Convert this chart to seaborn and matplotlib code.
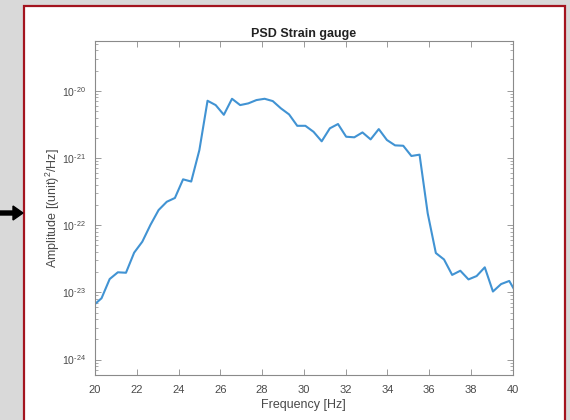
import matplotlib
matplotlib.use("Agg")
import numpy as np
import pandas as pd
import matplotlib.pyplot as plt
import seaborn as sns
from matplotlib.patches import Rectangle, FancyArrow
from matplotlib.ticker import LogLocator, NullFormatter, FixedLocator, FixedFormatter

# ---- data ----
freq_hz = [19.922, 20.313, 20.703, 21.094, 21.484, 21.875, 22.266, 22.656, 23.047, 23.438,
           23.828, 24.219, 24.609, 25.0, 25.391, 25.781, 26.172, 26.563, 26.953, 27.344,
           27.734, 28.125, 28.516, 28.906, 29.297, 29.688, 30.078, 30.469, 30.859, 31.25,
           31.641, 32.031, 32.422, 32.813, 33.203, 33.594, 33.984, 34.375, 34.766, 35.156,
           35.547, 35.938, 36.328, 36.719, 37.109, 37.5, 37.891, 38.281, 38.672, 39.063,
           39.453, 39.844, 40.234]
psd = [6.39e-24, 8.18e-24, 1.58e-23, 1.99e-23, 1.96e-23, 3.90e-23, 5.68e-23, 1.01e-22, 1.68e-22, 2.23e-22,
       2.54e-22, 4.81e-22, 4.46e-22, 1.31e-21, 7.10e-21, 6.12e-21, 4.39e-21, 7.60e-21, 6.12e-21, 6.49e-21,
       7.27e-21, 7.60e-21, 7.02e-21, 5.47e-21, 4.45e-21, 3.01e-21, 3.01e-21, 2.45e-21, 1.77e-21, 2.76e-21,
       3.20e-21, 2.07e-21, 2.03e-21, 2.40e-21, 1.89e-21, 2.69e-21, 1.85e-21, 1.54e-21, 1.52e-21, 1.07e-21,
       1.12e-21, 1.50e-22, 3.85e-23, 3.09e-23, 1.82e-23, 2.10e-23, 1.56e-23, 1.75e-23, 2.36e-23, 1.03e-23,
       1.33e-23, 1.48e-23, 9.16e-24]
x_ticks = [20, 22, 24, 26, 28, 30, 32, 34, 36, 38, 40]
y_ticks = [1e-24, 1e-23, 1e-22, 1e-21, 1e-20]
y_tick_labels = [r"$10^{\text{-}24}$", r"$10^{\text{-}23}$", r"$10^{\text{-}22}$",
                 r"$10^{\text{-}21}$", r"$10^{\text{-}20}$"]

df = pd.DataFrame({"Frequency": freq_hz, "PSD": psd})

sns.set_theme(style="white")
plt.rcParams["font.family"] = ["Liberation Sans", "DejaVu Sans"]
plt.rcParams["mathtext.fontset"] = "custom"
plt.rcParams["mathtext.rm"] = "Liberation Sans"
plt.rcParams["mathtext.default"] = "regular"
plt.rcParams["axes.unicode_minus"] = False

W, H = 570, 420
fig = plt.figure(figsize=(W / 100, H / 100), dpi=100)
fig.patch.set_facecolor("#d9d9d9")

# white panel with dark red border
panel = Rectangle((24 / W, -0.05), (564.5 - 24) / W, 1.05 - 6 / H,
                  transform=fig.transFigure, facecolor="white",
                  edgecolor="#a3141f", linewidth=1.6, zorder=-10)
fig.patches.append(panel)

# black arrow at left
arrow = FancyArrow(0 / W, 1 - 213 / H, 23 / W, 0, width=4 / H, head_width=14 / H,
                   head_length=10 / W, length_includes_head=True,
                   transform=fig.transFigure, color="black", zorder=-5)
fig.patches.append(arrow)

ax = fig.add_axes([95 / W, 1 - 375 / H, (512.5 - 95) / W, (375 - 41) / H])
ax.set_zorder(5)
ax.set_facecolor("white")
sns.lineplot(data=df, x="Frequency", y="PSD", ax=ax, color="#4193d3", linewidth=1.5)
ax.set_yscale("log")
ax.set_xlim(20, 40)
ax.set_ylim(5.9e-25, 5.5e-20)
ax.set_xticks(x_ticks)
ax.set_xticklabels([str(t) for t in x_ticks])
ax.yaxis.set_major_locator(FixedLocator(y_ticks))
ax.yaxis.set_major_formatter(FixedFormatter(y_tick_labels))
ax.yaxis.set_minor_locator(LogLocator(base=10, subs=np.arange(2, 10), numticks=20))
ax.yaxis.set_minor_formatter(NullFormatter())

edge = "#8a8a8a"
for s in ax.spines.values():
    s.set_visible(True)
    s.set_color(edge)
    s.set_linewidth(0.8)
ax.tick_params(axis="both", which="major", direction="in", length=4, width=0.6,
               color=edge, labelcolor="#4a4a4a", labelsize=7.5, top=True, right=True,
               bottom=True, left=True)
ax.tick_params(axis="x", labelsize=8, pad=7)
ax.tick_params(axis="y", which="minor", direction="in", length=2, width=0.5,
               color=edge, left=True, right=True)
ax.tick_params(axis="y", pad=6.5)

ax.set_xlabel("Frequency [Hz]", fontsize=9, color="#4a4a4a", labelpad=3)
ax.set_ylabel("Amplitude [(unit)$^2$/Hz]", fontsize=9, color="#4a4a4a")
ax.yaxis.set_label_coords(-0.079, 0.5)
ax.set_title("PSD Strain gauge", fontsize=9, fontweight="bold", color="#222222", pad=3)

fig.savefig("out.png", dpi=100, facecolor=fig.get_facecolor())
